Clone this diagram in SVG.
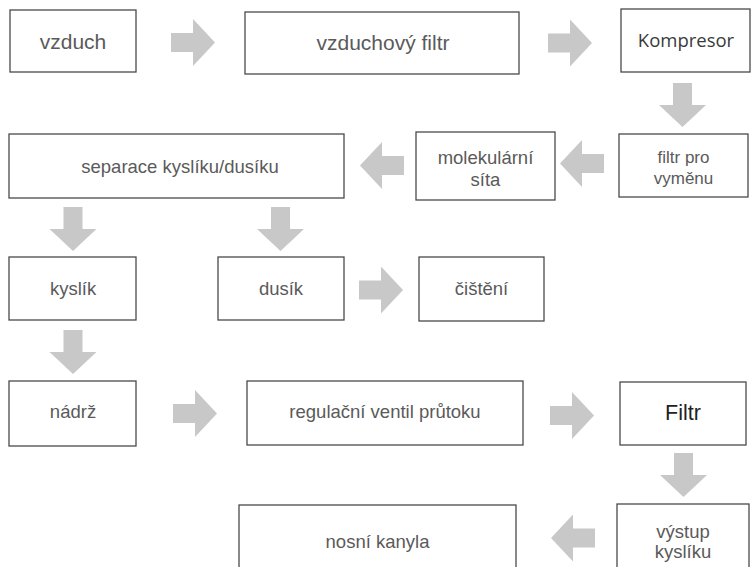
<svg xmlns="http://www.w3.org/2000/svg" width="752" height="567" viewBox="0 0 752 567">
<defs>
<style>
.box{fill:#fff;stroke:#4a4a4a;stroke-width:1.3}
.t{font-family:"Liberation Sans",Arial,sans-serif;fill:#5a5a5a;text-anchor:middle}
.big{font-size:21px}
.md{font-size:18.5px}
.sm{font-size:17px}
.komp{font-family:"Open Sans","Liberation Sans",sans-serif;font-size:18.5px;fill:#3a3a3a;text-anchor:middle}
.filtr{font-family:"Liberation Sans",Arial,sans-serif;font-size:21.5px;fill:#222;text-anchor:middle}
.arr{fill:#c8c8c8}
</style>
<path id="ar" d="M0,-9.5 H22 V-23.5 L44,0 L22,23.5 V9.5 H0 Z"/>
</defs>
<rect width="752" height="567" fill="#fff"/>
<g id="connectors" class="arr">
<use href="#ar" transform="translate(171,42.5)"/>
<use href="#ar" transform="translate(548,43)"/>
<use href="#ar" transform="translate(682.5,83) rotate(90)"/>
<use href="#ar" transform="translate(604,163.5) rotate(180)"/>
<use href="#ar" transform="translate(404,165.5) rotate(180)"/>
<use href="#ar" transform="translate(73,207) rotate(90)"/>
<use href="#ar" transform="translate(280.5,207) rotate(90)"/>
<use href="#ar" transform="translate(359,290)"/>
<use href="#ar" transform="translate(73,330) rotate(90)"/>
<use href="#ar" transform="translate(173,413.5)"/>
<use href="#ar" transform="translate(550,415.5)"/>
<use href="#ar" transform="translate(683.5,453) rotate(90)"/>
<use href="#ar" transform="translate(595,538) rotate(180)"/>
</g>
<g id="vzduch"><rect class="box" x="10" y="10" width="126" height="62"/><text class="t big" x="73" y="49">vzduch</text></g>
<g id="vzduchovy-filtr"><rect class="box" x="245" y="12" width="274" height="62"/><text class="t big" x="383" y="50">vzduchový filtr</text></g>
<g id="kompresor"><rect class="box" x="621" y="9" width="129" height="63"/><text class="komp" x="686" y="47">Kompresor</text></g>
<g id="filtr-pro-vymenu"><rect class="box" x="619" y="134" width="129" height="63"/><text class="t sm" x="683.5" y="163">filtr pro</text><text class="t sm" x="683.5" y="184">vyměnu</text></g>
<g id="molekularni-sita"><rect class="box" x="416" y="132" width="139" height="68"/><text class="t md" x="485.5" y="164">molekulární</text><text class="t md" x="485.5" y="186">síta</text></g>
<g id="separace"><rect class="box" x="9" y="134" width="335" height="64"/><text class="t md" x="180" y="173">separace kyslíku/dusíku</text></g>
<g id="kyslik"><rect class="box" x="9" y="257" width="127" height="63"/><text class="t md" x="73" y="295">kyslík</text></g>
<g id="dusik"><rect class="box" x="218" y="257" width="126" height="63"/><text class="t md" x="281" y="295">dusík</text></g>
<g id="cisteni"><rect class="box" x="419" y="257" width="125" height="64"/><text class="t md" x="481.5" y="295">čištění</text></g>
<g id="nadrz"><rect class="box" x="9" y="381" width="127" height="65"/><text class="t md" x="73" y="418">nádrž</text></g>
<g id="regulacni-ventil"><rect class="box" x="247" y="381" width="276" height="64"/><text class="t md" x="385" y="418">regulační ventil průtoku</text></g>
<g id="filtr"><rect class="box" x="620" y="382" width="126" height="63"/><text class="filtr" x="683" y="420">Filtr</text></g>
<g id="vystup-kysliku"><rect class="box" x="617" y="504" width="132" height="80"/><text class="t md" x="683" y="538">výstup</text><text class="t md" x="683" y="558">kyslíku</text></g>
<g id="nosni-kanyla"><rect class="box" x="239" y="505" width="277" height="80"/><text class="t md" x="377.5" y="548">nosní kanyla</text></g>
</svg>
